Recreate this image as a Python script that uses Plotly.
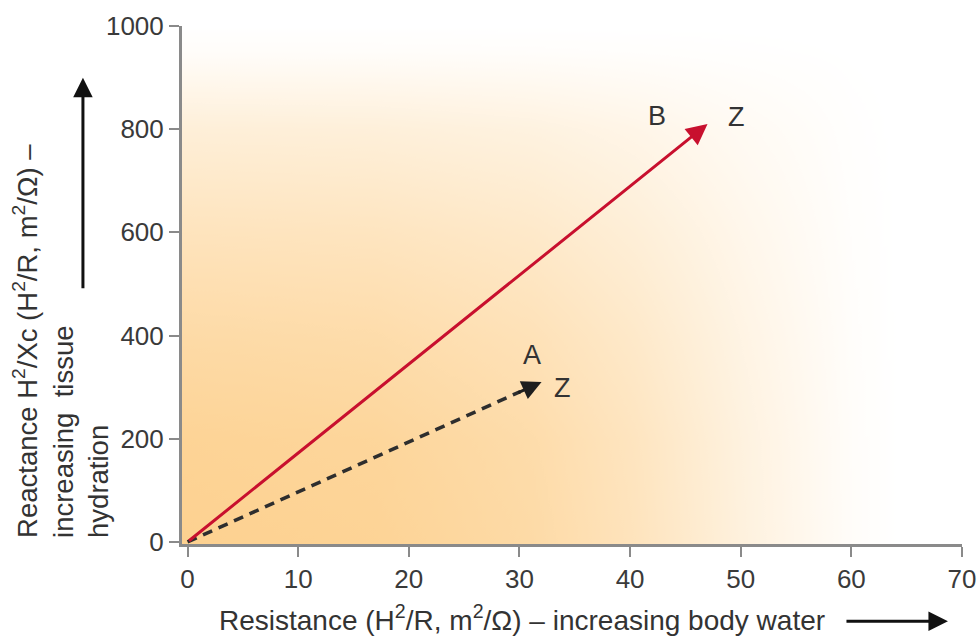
import base64
import plotly.graph_objects as go

# ---- data ----
vec_names = ["A", "B"]
vec_x = [32, 47]        # resistance H2/R at vector tip
vec_y = [310, 810]      # reactance H2/Xc at vector tip

label_text = ["A", "Z", "B", "Z"]
label_x = [31.1, 33.9, 42.4, 49.6]
label_y = [362, 298, 826, 824]

x_ticks = [0, 10, 20, 30, 40, 50, 60, 70]
y_ticks = [0, 200, 400, 600, 800, 1000]

FONT = "Liberation Sans, Arial, Helvetica, sans-serif"
TXT = "#333333"
AXC = "#8a8a8a"

# ---- background gradient (style only): product of horizontal and vertical fades ----
svg = (
    '<svg xmlns="http://www.w3.org/2000/svg" width="780" height="518" '
    'viewBox="0 0 780 518" preserveAspectRatio="none">'
    '<defs>'
    '<linearGradient id="h" x1="0" y1="0" x2="1" y2="0">'
    '<stop offset="0" stop-color="#ffffff"/>'
    '<stop offset="0.25" stop-color="#f2f2f2"/>'
    '<stop offset="0.45" stop-color="#cccccc"/>'
    '<stop offset="0.58" stop-color="#999999"/>'
    '<stop offset="0.72" stop-color="#4d4d4d"/>'
    '<stop offset="0.86" stop-color="#0d0d0d"/>'
    '<stop offset="0.92" stop-color="#000000"/>'
    '</linearGradient>'
    '<linearGradient id="v" x1="0" y1="0" x2="0" y2="1">'
    '<stop offset="0" stop-color="#000000"/>'
    '<stop offset="0.05" stop-color="#0d0d0d"/>'
    '<stop offset="0.2" stop-color="#5a5a5a"/>'
    '<stop offset="0.4" stop-color="#999999"/>'
    '<stop offset="0.6" stop-color="#cccccc"/>'
    '<stop offset="0.8" stop-color="#f2f2f2"/>'
    '<stop offset="1" stop-color="#ffffff"/>'
    '</linearGradient>'
    '<mask id="mv" maskUnits="userSpaceOnUse" x="0" y="0" width="780" height="518">'
    '<rect x="0" y="0" width="780" height="518" fill="url(#v)"/></mask>'
    '<mask id="mh" maskUnits="userSpaceOnUse" x="0" y="0" width="780" height="518">'
    '<rect x="0" y="0" width="780" height="518" fill="url(#h)" mask="url(#mv)"/></mask>'
    '</defs>'
    '<rect x="0" y="0" width="780" height="518" fill="#ffffff"/>'
    '<rect x="0" y="0" width="780" height="518" fill="#FDD190" mask="url(#mh)"/>'
    '</svg>'
)
svg_uri = "data:image/svg+xml;base64," + base64.b64encode(svg.encode()).decode()

x_range = [-0.5, 70]
y_range = [-4, 1000]

fig = go.Figure()

# dashed vector A (line body; head drawn as annotation)
fig.add_trace(go.Scatter(
    x=[0, vec_x[0] * 0.94], y=[0, vec_y[0] * 0.94],
    mode="lines",
    line=dict(color="#2e2e2e", width=3.5, dash="10px,7px"),
    hoverinfo="skip", showlegend=False,
))

annotations = []
# vector B: solid red arrow from origin
annotations.append(dict(
    x=vec_x[1], y=vec_y[1], ax=0, ay=0, xref="x", yref="y", axref="x", ayref="y",
    text="", showarrow=True, arrowhead=2, arrowsize=1.4, arrowwidth=3,
    arrowcolor="#C8102E", standoff=0,
))
# vector A head
annotations.append(dict(
    x=vec_x[0], y=vec_y[0], ax=vec_x[0] * 0.93, ay=vec_y[0] * 0.93,
    xref="x", yref="y", axref="x", ayref="y",
    text="", showarrow=True, arrowhead=2, arrowsize=1.3, arrowwidth=3,
    arrowcolor="#1e1e1e", standoff=0,
))
# point labels
for t, lx, ly in zip(label_text, label_x, label_y):
    annotations.append(dict(
        x=lx, y=ly, xref="x", yref="y", text=t, showarrow=False,
        font=dict(family=FONT, size=27, color=TXT),
        xanchor="center", yanchor="middle",
    ))

# axis titles
annotations.append(dict(
    x=0.436, y=-0.143, xref="paper", yref="paper",
    text="Resistance (H<sup>2</sup>/R, m<sup>2</sup>/Ω) – increasing body water",
    showarrow=False, xanchor="center", yanchor="middle",
    font=dict(family=FONT, size=28, color=TXT),
))
annotations.append(dict(
    x=-0.155, y=0.008, xref="paper", yref="paper",
    text=("Reactance H<sup>2</sup>/Xc (H<sup>2</sup>/R, m<sup>2</sup>/Ω) –<br>"
          "increasing  tissue<br>hydration"),
    showarrow=False, textangle=-90, align="left",
    xanchor="center", yanchor="bottom",
    font=dict(family=FONT, size=27.5, color=TXT),
))
# direction arrows
annotations.append(dict(
    x=0.982, y=-0.149, xref="paper", yref="paper", ax=-103, ay=0,
    text="", showarrow=True, arrowhead=2, arrowsize=1.3, arrowwidth=3,
    arrowcolor="#111111", standoff=0,
))
annotations.append(dict(
    x=-0.127, y=0.9, xref="paper", yref="paper", ax=0, ay=212,
    text="", showarrow=True, arrowhead=2, arrowsize=1.3, arrowwidth=3,
    arrowcolor="#111111", standoff=0,
))

fig.update_layout(
    width=979, height=636,
    margin=dict(l=182, r=17, t=26, b=92, autoexpand=False),
    paper_bgcolor="white",
    plot_bgcolor="rgba(0,0,0,0)",
    showlegend=False,
    annotations=annotations,
    images=[dict(
        source=svg_uri, xref="x", yref="y",
        x=x_range[0], y=y_range[1],
        sizex=x_range[1] - x_range[0], sizey=y_range[1] - y_range[0],
        sizing="stretch", layer="below", xanchor="left", yanchor="top",
    )],
    font=dict(family=FONT, color=TXT),
)
fig.update_xaxes(
    range=x_range, tickvals=x_ticks, showgrid=False, zeroline=False,
    showline=True, linecolor=AXC, linewidth=3, automargin=False,
    ticks="outside", ticklen=10, tickwidth=2, tickcolor=AXC,
    tickfont=dict(family=FONT, size=26, color="#3a3a3a"),
)
fig.update_yaxes(
    range=y_range, tickvals=y_ticks, showgrid=False, zeroline=False,
    showline=True, linecolor=AXC, linewidth=3, automargin=False,
    ticks="outside", ticklen=10, tickwidth=2, tickcolor=AXC,
    tickfont=dict(family=FONT, size=26, color="#3a3a3a"),
)

fig.write_html(
    "out.html",
    config={"displayModeBar": False},
    post_script="document.body.style.margin='0';document.body.style.overflow='hidden';",
)
